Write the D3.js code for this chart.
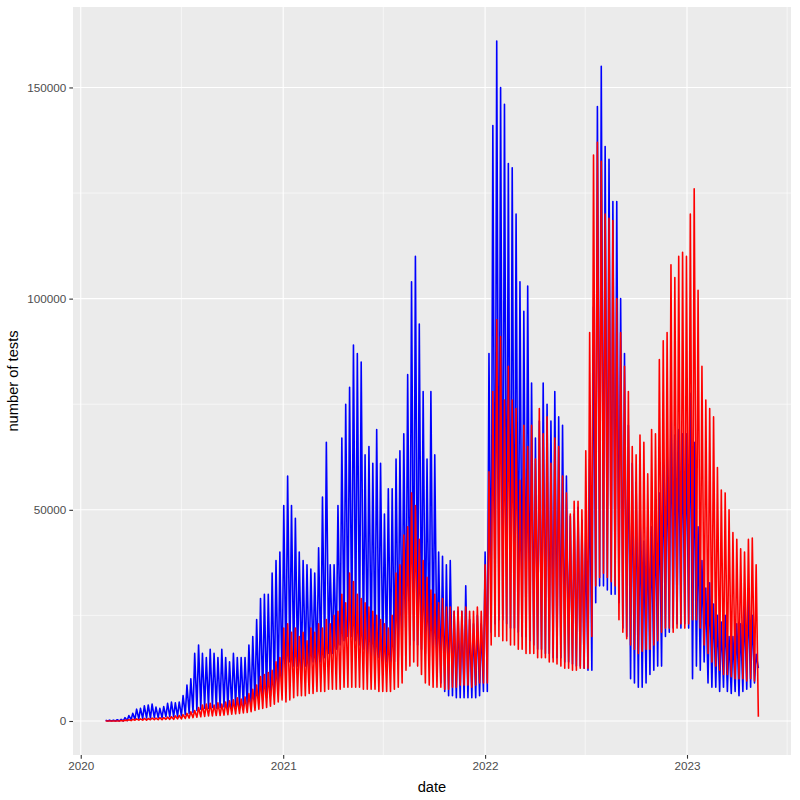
<!DOCTYPE html>
<html>
<head>
<meta charset="utf-8">
<script src="https://cdn.jsdelivr.net/npm/d3@7"></script>
<style>
  body { margin: 0; background: #fff; }
  svg { display: block; font-family: "Liberation Sans", Arial, sans-serif; }
</style>
</head>
<body>
<script>
// weekly readings (thousands of tests), week 0 starts 2020-02-13
// each week: weekday peak and weekend trough
let bluePeak = [
  0.2, 0.2, 0.2, 0.3, 0.4, 0.8, 1.3, 1.8, 2.8, 3.0,
  3.6, 3.8, 4.0, 3.3, 3.0, 3.4, 4.2, 4.5, 4.3, 4.5,
  6, 8.5, 10, 16, 18, 16, 15, 17, 16, 15,
  17, 15, 14, 16, 15, 15, 15, 18, 20, 24,
  29, 30, 30, 35, 38, 40, 51, 58, 51, 48,
  40, 38, 37, 36, 35, 41, 53, 66, 37, 37,
  51, 67, 75, 79, 89, 87, 85, 63, 65, 61,
  69, 61, 49, 55, 55, 62, 64, 68, 82, 104,
  110, 94, 78, 62, 78, 63, 40, 39, 37, 38,
  26, 26, 26, 32, 24, 23, 25, 23, 40, 87,
  141, 161, 150, 146, 132, 131, 120, 104, 97, 103,
  80, 67, 71, 80, 75, 71, 78, 72, 70, 58,
  48.5, 49, 50.6, 47.5, 44, 62, 98, 145.5, 155, 136,
  133, 123, 123, 100, 87, 70, 61, 56.5, 50, 42.6,
  46, 46, 50, 54, 62.7, 65, 73, 67.7, 69, 68,
  68, 77.6, 66, 46, 38, 31.5, 32.7, 27.7, 25, 23.4,
  25, 20, 20, 23, 23, 27, 29, 25, 15.8
]
let blueTrough = [
  0, 0, 0, 0, 0, 0.1, 0.3, 0.4, 0.5, 0.6,
  0.7, 0.7, 0.8, 0.8, 0.8, 1.0, 1.0, 1.0, 1.1, 1.2,
  1.5, 1.8, 2.0, 2.5, 2.8, 3.0, 3.0, 3.2, 3.0, 3.2,
  3.3, 3.0, 3.2, 3.4, 3.3, 3.5, 3.5, 3.6, 4.0, 4.5,
  5, 5.5, 6, 6.5, 7, 7, 12, 14, 13, 13,
  12, 13, 12, 14, 13, 14, 15, 16, 16, 17,
  18, 19, 20, 20, 19, 18, 17, 16, 15, 15,
  15, 14, 14, 14, 14, 15, 16, 17, 18, 19,
  18, 17, 16, 15, 14, 12, 9, 7, 6, 6,
  5.5, 5.5, 5.5, 5.5, 5.5, 5.5, 6, 7, 7, 21,
  23, 24, 24, 23, 22, 22, 21, 20, 20, 19,
  18, 17, 17, 16, 16, 15, 15, 15, 14, 14,
  13.5, 13, 13, 12.5, 12, 12, 28, 32, 32, 31,
  30, 30, 28, 22, 20, 10, 9, 8, 8, 9,
  11, 12, 13, 13, 20, 21, 22, 23, 22, 23,
  22, 10, 13, 12, 14, 9, 8, 8, 7, 8,
  7, 6.5, 7, 6, 7, 7.5, 8, 9, 12.5
]
let redPeak = [
  0, 0, 0, 0, 0.1, 0.2, 0.3, 0.4, 0.5, 0.5,
  0.6, 0.6, 0.7, 0.7, 0.8, 0.8, 0.9, 1.0, 1.2, 1.3,
  1.5, 1.8, 2.2, 2.5, 3.2, 3.8, 4.0, 4.2, 3.8, 4.3,
  4.0, 4.5, 4.8, 5.0, 5.5, 5.2, 5.7, 6.5, 7.5, 8.5,
  10.5, 11, 11.5, 12, 14, 15, 22, 23, 21, 22,
  20, 21, 19, 22, 21, 23, 22, 24, 23, 25,
  26, 30, 28, 35, 33, 30, 29, 28, 27, 26,
  25, 24, 23, 22, 25, 35, 37, 44, 46, 54,
  51, 43, 38, 34, 31, 30, 28, 29, 27, 27,
  26, 27, 26, 27, 26, 26, 27, 26, 37, 59,
  78, 95, 91, 76, 84, 76, 74, 57, 70, 65,
  70, 62, 74, 68, 72, 61, 67, 65, 58, 54,
  49, 52, 52, 50, 64, 92, 134, 137, 132.5, 120,
  119, 118.5, 100, 92, 84, 78, 65, 63, 67.7, 66,
  58.5, 69, 68, 85.6, 90, 92, 108, 105, 110, 111,
  110, 120, 126, 102, 84, 76, 74, 72, 60, 54.7,
  54, 50, 44.6, 43, 40.8, 40, 43, 43.3, 37
]
let redTrough = [
  0, 0, 0, 0, 0, 0.1, 0.1, 0.2, 0.2, 0.2,
  0.2, 0.3, 0.3, 0.3, 0.3, 0.4, 0.4, 0.4, 0.5, 0.5,
  0.6, 0.7, 0.8, 0.9, 1.0, 1.1, 1.2, 1.2, 1.3, 1.3,
  1.4, 1.5, 1.6, 1.7, 1.8, 1.9, 2.0, 2.2, 2.5, 2.8,
  3.0, 3.2, 3.5, 4.0, 4.5, 5.0, 4.5, 5.0, 5.5, 6.0,
  6.0, 6.0, 6.5, 6.5, 7.0, 7.0, 7.0, 7.5, 7.5, 7.5,
  7.5, 8.0, 8.0, 8.0, 8.0, 8.0, 7.5, 7.5, 7.5, 7.5,
  7.0, 7.0, 7.0, 7.0, 7.5, 8.0, 9.0, 12, 13, 14,
  13, 11, 9.0, 8.5, 8.0, 8.0, 8.0, 7.5, 7.5, 8.0,
  8.0, 8.5, 8.5, 8.5, 8.0, 8.5, 9.0, 9.0, 9.0, 18,
  20, 20, 19, 19, 18, 18, 17, 17, 16, 16,
  16, 15, 15, 15, 14, 14, 13.5, 13, 12.5, 12.5,
  12, 12, 12.5, 12.5, 12.5, 20, 32, 34, 35, 34,
  33, 32, 24, 21, 19.5, 18, 17, 16, 16.5, 17,
  17, 18, 19, 21, 22, 22, 21, 22, 23, 22,
  23, 24, 24, 22, 18, 16, 14, 13, 12, 11,
  11, 10.5, 10, 10, 10, 9.5, 10, 9.5, 1
]

let yearTicks = [2020, 2021, 2022, 2023]
let yTicks = [0, 50000, 100000, 150000]

let width = 800, height = 800
let panel = { left: 73, right: 791, top: 7, bottom: 755 }

// turn weekly peak/trough into a dated line (peak 2 days in, trough 6 days in)
let toSeries = (peaks, troughs) => {
  let pts = []
  peaks.forEach((p, i) => {
    pts.push({ date: new Date(2020, 1, 13 + 7 * i + 2), value: p * 1000 })
    pts.push({ date: new Date(2020, 1, 13 + 7 * i + 6), value: troughs[i] * 1000 })
  })
  return pts
}

let blue = toSeries(bluePeak, blueTrough)
let red = toSeries(redPeak, redTrough)

let all = blue.concat(red)
let [d0, d1] = d3.extent(all, d => d.date)
let pad = (d1 - d0) * 0.05
let ymax = d3.max(all, d => d.value)

let x = d3.scaleTime()
  .domain([new Date(+d0 - pad), new Date(+d1 + pad)])
  .range([panel.left, panel.right])

let y = d3.scaleLinear()
  .domain([-ymax * 0.05, ymax * 1.05])
  .range([panel.bottom, panel.top])

let svg = d3.select('body').append('svg')
  .attr('width', width)
  .attr('height', height)

svg.append('rect')
  .attr('x', panel.left).attr('y', panel.top)
  .attr('width', panel.right - panel.left)
  .attr('height', panel.bottom - panel.top)
  .attr('fill', '#EBEBEB')

let majorX = yearTicks.map(yr => new Date(yr, 0, 1))
let minorX = d3.range(2019, 2025).map(yr => new Date(yr, 6, 1))
  .filter(d => d >= x.domain()[0] && d <= x.domain()[1])
let minorY = [25000, 75000, 125000].filter(v => v <= y.domain()[1])

let grid = svg.append('g')
grid.selectAll('.minor-y').data(minorY).enter().append('line')
  .attr('x1', panel.left).attr('x2', panel.right)
  .attr('y1', d => y(d)).attr('y2', d => y(d))
  .attr('stroke', '#fff').attr('stroke-width', 0.55)
grid.selectAll('.minor-x').data(minorX).enter().append('line')
  .attr('y1', panel.top).attr('y2', panel.bottom)
  .attr('x1', d => x(d)).attr('x2', d => x(d))
  .attr('stroke', '#fff').attr('stroke-width', 0.55)
grid.selectAll('.major-y').data(yTicks).enter().append('line')
  .attr('x1', panel.left).attr('x2', panel.right)
  .attr('y1', d => y(d)).attr('y2', d => y(d))
  .attr('stroke', '#fff').attr('stroke-width', 1.1)
grid.selectAll('.major-x').data(majorX).enter().append('line')
  .attr('y1', panel.top).attr('y2', panel.bottom)
  .attr('x1', d => x(d)).attr('x2', d => x(d))
  .attr('stroke', '#fff').attr('stroke-width', 1.1)

let line = d3.line()
  .x(d => x(d.date))
  .y(d => y(d.value))

svg.append('path').datum(blue)
  .attr('d', line)
  .attr('fill', 'none')
  .attr('stroke', '#0000FF')
  .attr('stroke-width', 1.6)
  .attr('stroke-linejoin', 'round')

svg.append('path').datum(red)
  .attr('d', line)
  .attr('fill', 'none')
  .attr('stroke', '#FF0000')
  .attr('stroke-width', 1.6)
  .attr('stroke-linejoin', 'round')

// axes
let xAxis = svg.append('g')
  .attr('transform', `translate(0,${panel.bottom})`)
  .call(d3.axisBottom(x).tickValues(majorX).tickFormat(d3.timeFormat('%Y'))
    .tickSize(3.7).tickPadding(3))
let yAxis = svg.append('g')
  .attr('transform', `translate(${panel.left},0)`)
  .call(d3.axisLeft(y).tickValues(yTicks).tickFormat(d3.format('d'))
    .tickSize(3.7).tickPadding(3))

;[xAxis, yAxis].forEach(g => {
  g.select('.domain').remove()
  g.selectAll('.tick line').attr('stroke', '#333333').attr('stroke-width', 1.1)
  g.selectAll('.tick text')
    .attr('fill', '#4D4D4D')
    .style('font-size', '11.7px')
    .style('font-family', '"Liberation Sans", Arial, sans-serif')
})

svg.append('text')
  .attr('x', (panel.left + panel.right) / 2)
  .attr('y', 792)
  .attr('text-anchor', 'middle')
  .style('font-size', '14.7px')
  .text('date')

svg.append('text')
  .attr('transform', `translate(18,${(panel.top + panel.bottom) / 2}) rotate(-90)`)
  .attr('text-anchor', 'middle')
  .style('font-size', '14.7px')
  .text('number of tests')
</script>
</body>
</html>
